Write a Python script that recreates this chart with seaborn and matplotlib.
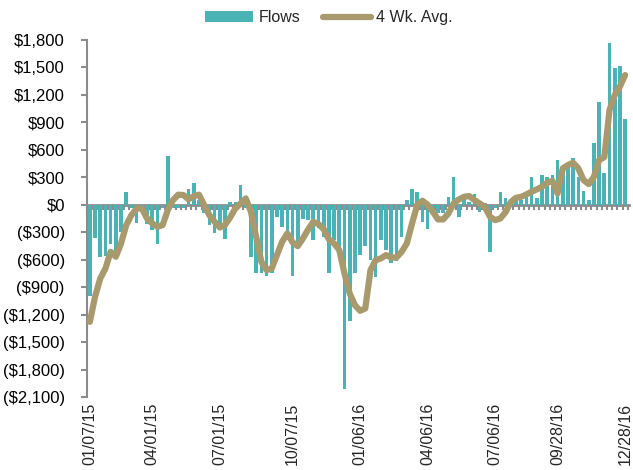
import numpy as np
import pandas as pd
import matplotlib
matplotlib.use("Agg")
import matplotlib.pyplot as plt
import seaborn as sns
from matplotlib.ticker import FuncFormatter, FixedLocator
from matplotlib.patches import Patch
from matplotlib.lines import Line2D

# ---- data ($ millions) ----
flows = [
    -995, -368, -576, -560, -430, -500, -300, 135, -30, -197,
    -20, -211, -277, -430, -40, 532, -30, -40, -30, 171,
    240, 50, -95, -222, -306, -240, -372, 25, 25, 211,
    -30, -576, -743, -743, -780, -743, -138, -248, -386, -780,
    -460, -160, -167, -386, -250, -350, -743, -386, -530, -2018,
    -1268, -743, -550, -452, -600, -787, -386, -495, -641, -612,
    -350, 51, 171, 135, -186, -270, -30, -87, -87, 87,
    299, -138, 69, 30, 113, -77, 20, -514, -30, 135,
    69, 33, 87, 50, 131, 302, 69, 320, 299, 320,
    488, 423, 452, 510, 302, 153, 50, 678, 1118, 342,
    1763, 1490, 1515, 933,
]
avg4 = [
    -1279, -1005, -805, -696, -514, -568, -423, -222, -113, -40,
    -40, -149, -204, -240, -222, -58, 51, 110, 106, 60,
    95, 110, -4, -113, -186, -248, -222, -138, -40, 15,
    69, -77, -350, -623, -714, -696, -550, -404, -313, -410,
    -452, -368, -270, -186, -211, -266, -379, -423, -495, -750,
    -968, -1096, -1158, -1133, -714, -605, -586, -550, -576, -576,
    -514, -422, -204, 0, 44, 0, -77, -160, -160, -95,
    15, 58, 87, 95, 51, 15, -22, -131, -168, -149,
    -80, 30, 76, 87, 113, 142, 168, 197, 240, 262,
    124, 397, 434, 459, 397, 270, 226, 306, 488, 520,
    1035, 1199, 1290, 1417,
]
tick_weeks = [0, 12, 25, 39, 52, 65, 78, 90, 103]
tick_labels = ["01/07/15", "04/01/15", "07/01/15", "10/07/15", "01/06/16",
               "04/06/16", "07/06/16", "09/28/16", "12/28/16"]
y_ticks = list(range(-2100, 1801, 300))

df = pd.DataFrame({"week": np.arange(len(flows)), "flows": flows, "avg": avg4})

# ---- style ----
sns.set_theme(style="white")
plt.rcParams["font.family"] = ["Liberation Sans", "DejaVu Sans"]
TEAL = "#4BB3B5"
KHAKI = "#A89A6D"
GRAY = "#8C8C8C"

fig = plt.figure(figsize=(6.33, 4.70), dpi=100)
ax = fig.add_axes([87 / 633, 1 - 397 / 470, (629 - 87) / 633, (397 - 40) / 470])

sns.barplot(data=df, x="week", y="flows", color=TEAL, saturation=1,
            width=0.7, linewidth=0, ax=ax, zorder=2)
sns.lineplot(data=df, x="week", y="avg", color=KHAKI, linewidth=4.5,
             ax=ax, zorder=3, solid_capstyle="round", solid_joinstyle="round")

ax.set_xlim(-0.55, len(flows) - 0.25)
ax.set_ylim(-2100, 1800)
ax.set_xlabel("")
ax.set_ylabel("")

# y axis
ax.yaxis.set_major_locator(FixedLocator(y_ticks))
ax.yaxis.set_major_formatter(FuncFormatter(
    lambda v, p: f"${v:,.0f}" if v >= 0 else f"(${-v:,.0f})"))
ax.tick_params(axis="y", direction="out", length=4, width=1.5, color=GRAY,
               labelsize=12, pad=12, left=True, labelcolor="black")

# x axis line at zero with small ticks at each category boundary
for s in ["top", "right"]:
    ax.spines[s].set_visible(False)
ax.spines["left"].set_color(GRAY)
ax.spines["left"].set_linewidth(1.5)
ax.spines["bottom"].set_position(("data", 0))
ax.spines["bottom"].set_color(GRAY)
ax.spines["bottom"].set_linewidth(2)
ax.spines["bottom"].set_zorder(1)
ax.xaxis.set_major_locator(FixedLocator(np.arange(-0.5, len(flows) + 0.5, 1)))
ax.set_xticklabels([])
ax.tick_params(axis="x", direction="out", length=3.5, width=1.5, color=GRAY,
               bottom=True, labelbottom=False)

sec = ax.secondary_xaxis(0)
sec.set_xticks(tick_weeks)
sec.set_xticklabels(tick_labels, rotation=90, fontsize=11.5)
sec.tick_params(length=0, pad=4)
sec.spines["bottom"].set_visible(False)

handles = [Patch(facecolor=TEAL, edgecolor="none"),
           Line2D([0], [0], color=KHAKI, linewidth=4.5, solid_capstyle="round")]
fig.legend(handles, ["Flows", "4 Wk. Avg."], loc="center",
           bbox_to_anchor=(0.52, 1 - 17.5 / 470), ncol=2, frameon=False,
           fontsize=11.5, handlelength=3.0, handleheight=0.65,
           handletextpad=0.35, columnspacing=1.4)

fig.savefig("out.png", dpi=100, facecolor="white")
